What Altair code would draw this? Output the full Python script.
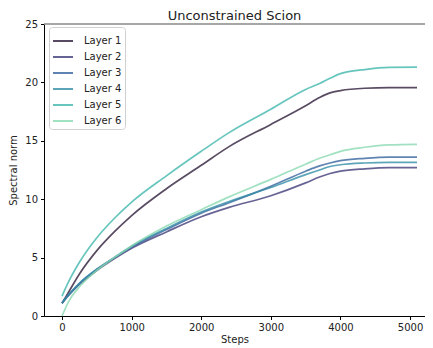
import altair as alt
import pandas as pd

steps = [0, 100, 250, 500, 750, 1000, 1500, 2000, 2400, 3000, 3500, 3700, 3850, 4000, 4350, 4700, 5100]
layer1 = [1.1, 2.1, 3.6, 5.6, 7.2, 8.6, 10.9, 12.9, 14.5, 16.4, 18.0, 18.7, 19.1, 19.3, 19.5, 19.55, 19.55]
layer2 = [1.1, 1.8, 2.7, 3.9, 4.9, 5.8, 7.2, 8.5, 9.3, 10.3, 11.4, 11.9, 12.2, 12.4, 12.6, 12.7, 12.7]
layer3 = [1.1, 1.85, 2.8, 4.0, 5.0, 5.9, 7.4, 8.8, 9.7, 11.1, 12.4, 12.85, 13.1, 13.3, 13.5, 13.6, 13.6]
layer4 = [1.1, 1.85, 2.8, 4.0, 5.0, 6.0, 7.5, 8.9, 9.8, 11.0, 12.1, 12.5, 12.8, 12.95, 13.1, 13.15, 13.15]
layer5 = [1.7, 3.0, 4.6, 6.7, 8.35, 9.75, 12.0, 14.1, 15.7, 17.7, 19.4, 19.9, 20.35, 20.75, 21.1, 21.28, 21.3]
layer6 = [0.0, 1.3, 2.5, 3.9, 5.0, 6.0, 7.7, 9.1, 10.2, 11.7, 13.0, 13.5, 13.8, 14.1, 14.45, 14.65, 14.7]

names = ["Layer 1", "Layer 2", "Layer 3", "Layer 4", "Layer 5", "Layer 6"]
colors = ["#2e1e3b", "#413d7b", "#37659e", "#348fa7", "#40b7ad", "#8ad9b1"]
x_ticks = [0, 1000, 2000, 3000, 4000, 5000]
y_ticks = [0, 5, 10, 15, 20, 25]

rows = []
for name, vals in zip(names, [layer1, layer2, layer3, layer4, layer5, layer6]):
    for s, v in zip(steps, vals):
        rows.append({"Steps": s, "value": v, "layer": name})
df = pd.DataFrame(rows)

xscale = alt.Scale(domain=[-259, 5215], nice=False, zero=False)
yscale = alt.Scale(domain=[0, 25], nice=False)

lines = alt.Chart(df).mark_line(strokeWidth=1.7, opacity=0.8, interpolate="monotone").encode(
    x=alt.X("Steps:Q", scale=xscale,
            axis=alt.Axis(values=x_ticks, title="Steps", grid=False, labelFlush=False,
                          format="d", titlePadding=2)),
    y=alt.Y("value:Q", scale=yscale,
            axis=alt.Axis(values=y_ticks, title="Spectral norm", grid=False, format="d",
                          titlePadding=6)),
    color=alt.Color("layer:N", scale=alt.Scale(domain=names, range=colors),
                    legend=alt.Legend(title=None, orient="none", legendX=5, legendY=3,
                                      symbolType="stroke", symbolSize=400, symbolStrokeWidth=2,
                                      symbolOpacity=0.8,
                                      labelFontSize=10, labelFont="DejaVu Sans", labelColor="#222222",
                                      rowPadding=0, padding=3, strokeColor="#d0d0d0",
                                      fillColor="#ffffff", cornerRadius=3, labelOffset=10)),
)

top_rule = alt.Chart(pd.DataFrame({"y": [25]})).mark_rule(color="#888888", strokeWidth=1.5).encode(
    y=alt.Y("y:Q", scale=yscale)
)

chart = alt.layer(lines, top_rule).properties(
    width=381, height=292,
    title=alt.TitleParams("Unconstrained Scion", fontSize=13, fontWeight="normal",
                          font="DejaVu Sans", color="#222222", offset=-4),
    autosize=alt.AutoSizeParams(type="none"),
    padding={"left": 36, "top": 16, "right": 0, "bottom": 32},
).configure_view(stroke=None).configure_axis(
    labelFont="DejaVu Sans", titleFont="DejaVu Sans", labelFontSize=10, titleFontSize=10,
    titleFontWeight="normal", labelColor="#222222", titleColor="#222222",
    domainColor="#000000", tickColor="#000000", tickSize=3.5, labelPadding=3,
    domainWidth=1, tickWidth=1,
)

chart.save("out.html", embed_options={"renderer": "svg", "actions": False})
